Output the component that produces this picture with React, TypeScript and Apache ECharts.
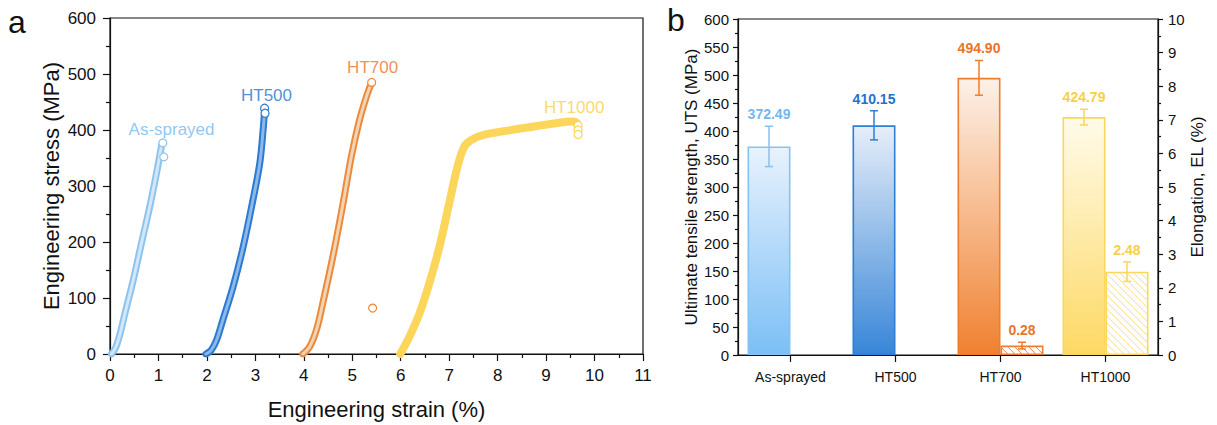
import React, { useEffect, useRef } from "react";
import * as echarts from "echarts";

// ---------- Panel a: engineering stress–strain curves [strain %, stress MPa] ----------
const curveNames = ["As-sprayed", "HT500", "HT700", "HT1000"];

const asSprayedCurve = [
  [0.03, 0], [0.12, 12], [0.21, 37], [0.31, 73], [0.48, 132], [0.65, 198],
  [0.82, 263], [0.96, 323], [1.06, 370], [1.08, 377],
];
const ht500Curve = [
  [1.98, 0], [2.09, 7], [2.2, 25], [2.33, 61], [2.54, 120], [2.75, 192],
  [2.95, 275], [3.09, 340], [3.16, 400], [3.19, 435],
];
const ht700Curve = [
  [3.98, 0], [4.12, 13], [4.26, 43], [4.39, 90], [4.6, 174], [4.81, 269],
  [4.98, 352], [5.15, 418], [5.29, 459], [5.39, 483],
];
const ht1000Curve = [
  [5.99, 0], [6.18, 31], [6.39, 73], [6.59, 126], [6.8, 192], [7.0, 269],
  [7.17, 334], [7.31, 370], [7.45, 382], [7.69, 391], [8.51, 403],
  [9.2, 412], [9.54, 415], [9.63, 413], [9.66, 405],
];
const curves = [asSprayedCurve, ht500Curve, ht700Curve, ht1000Curve];

// fracture / end points drawn as hollow circles
const asSprayedEnds = [[1.09, 377], [1.11, 352]];
const ht500Ends = [[3.19, 439], [3.2, 430]];
const ht700Ends = [[5.4, 485], [5.42, 82]];
const ht1000Ends = [[9.66, 408], [9.66, 400], [9.66, 392]];
const curveEnds = [asSprayedEnds, ht500Ends, ht700Ends, ht1000Ends];

// curve name annotations, in data coordinates [strain, stress]
const curveLabelAt = [[1.27, 401], [3.23, 462], [5.42, 511], [9.58, 440]];

// ---------- Panel b: UTS and elongation ----------
const categories = ["As-sprayed", "HT500", "HT700", "HT1000"];
const utsValues = [372.49, 410.15, 494.9, 424.79];
const utsErrors = [36, 26, 31, 14];
const elValues = [null, null, 0.28, 2.48];
const elErrors = [null, null, 0.1, 0.29];

// ---------- styles ----------
const FONT = "Liberation Sans, Arial, Helvetica, sans-serif";
const INK = "#111111";
const palette = [
  { edge: "#8dc4ee", inner: "#d3e7f8", label: "#74b8ee", top: "#e8f2fd", bottom: "#7bbff6", border: "#84c3f3", hatch: "#9ccdf3" },
  { edge: "#2c7ad1", inner: "#8bb9e9", label: "#2472cc", top: "#e6eef9", bottom: "#3886d8", border: "#2f7fd5", hatch: "#5b9be0" },
  { edge: "#ee893a", inner: "#efd4b6", label: "#ea7428", top: "#fdf1e8", bottom: "#f08130", border: "#ef7d2d", hatch: "#f08a48" },
  { edge: "#fcd55b", inner: "#fcd55b", label: "#f8cf48", top: "#fffbea", bottom: "#fdd964", border: "#fbd55c", hatch: "#f9dc86" },
];
const BAR_W = 43;

export default function App() {
  const ref = useRef<HTMLDivElement>(null);

  useEffect(() => {
    if (!ref.current) return;
    const chart = echarts.init(ref.current, undefined, { renderer: "svg" });

    const curveSeries: any[] = [];
    curves.forEach((c, i) => {
      const p = palette[i];
      curveSeries.push({
        type: "line", xAxisIndex: 0, yAxisIndex: 0, data: c, symbol: "none",
        smooth: 0.35, silent: true,
        lineStyle: { color: p.edge, width: i === 3 ? 8 : 7, cap: "round", join: "round" },
        z: 2,
      });
      if (i !== 3) {
        curveSeries.push({
          type: "line", xAxisIndex: 0, yAxisIndex: 0, data: c, symbol: "none",
          smooth: 0.35, silent: true,
          lineStyle: { color: p.inner, width: 3, cap: "round", join: "round" },
          z: 3,
        });
      }
      curveSeries.push({
        type: "scatter", xAxisIndex: 0, yAxisIndex: 0, data: curveEnds[i],
        symbol: "circle", symbolSize: 8, silent: true,
        itemStyle: { color: "#ffffff", borderColor: p.edge, borderWidth: 1.2, opacity: 1 },
        z: 4,
      });
    });

    const nameSeries = {
      type: "scatter", xAxisIndex: 0, yAxisIndex: 0, silent: true, symbolSize: 1,
      itemStyle: { color: "rgba(0,0,0,0)" },
      data: curveLabelAt.map((pos, i) => ({
        value: pos,
        label: {
          show: true, position: "inside", formatter: curveNames[i],
          color: palette[i].label, fontSize: 17, fontFamily: FONT,
        },
      })),
      z: 5,
    };

    const utsBar = {
      type: "bar", xAxisIndex: 1, yAxisIndex: 1, barWidth: BAR_W, barGap: "0%",
      silent: true,
      data: utsValues.map((v, i) => ({
        value: v,
        itemStyle: {
          color: new echarts.graphic.LinearGradient(0, 0, 0, 1, [
            { offset: 0, color: palette[i].top },
            { offset: 1, color: palette[i].bottom },
          ]),
          borderColor: palette[i].border, borderWidth: 1.6,
        },
      })),
      z: 2,
    };

    const elBar = {
      type: "bar", xAxisIndex: 1, yAxisIndex: 2, barWidth: BAR_W, barGap: "0%",
      silent: true,
      data: elValues.map((v, i) =>
        v == null ? null : {
          value: v,
          itemStyle: { color: "#ffffff", borderColor: palette[i].border, borderWidth: 1.6 },
        }
      ),
      z: 2,
    };

    const hatchData = elValues
      .map((v, i) => (v == null ? null : [i, v]))
      .filter((d) => d != null);

    const hatchSeries = {
      type: "custom", xAxisIndex: 1, yAxisIndex: 2, silent: true, z: 3,
      data: hatchData,
      renderItem: (params: any, api: any) => {
        const idx = api.value(0);
        const v = api.value(1);
        const top = api.coord([idx, v]);
        const base = api.coord([idx, 0]);
        const x0 = top[0] + 1, x1 = top[0] + BAR_W - 1;
        const y0 = top[1] + 1, y1 = base[1] - 1;
        const children: any[] = [];
        const step = 7;
        for (let c = y0 - x1; c <= y1 - x0; c += step) {
          const xs = Math.max(x0, y0 - c);
          const xe = Math.min(x1, y1 - c);
          if (xe > xs) {
            children.push({
              type: "line",
              shape: { x1: xs, y1: xs + c, x2: xe, y2: xe + c },
              style: { stroke: palette[idx].hatch, lineWidth: 1 },
            });
          }
        }
        return { type: "group", children };
      },
    };

    const makeErr = (values: (number | null)[], errs: (number | null)[], yIdx: number, side: number) => ({
      type: "custom", xAxisIndex: 1, yAxisIndex: yIdx, silent: true, z: 6,
      data: values
        .map((v, i) => (v == null ? null : [i, v, errs[i]]))
        .filter((d) => d != null),
      renderItem: (params: any, api: any) => {
        const idx = api.value(0);
        const v = api.value(1);
        const e = api.value(2);
        const c = api.coord([idx, v]);
        const cx = c[0] + side * BAR_W / 2;
        const hi = api.coord([idx, v + e])[1];
        const lo = api.coord([idx, v - e])[1];
        const col = palette[idx].border;
        const cap = 4;
        const st = { stroke: col, lineWidth: 1.5 };
        return {
          type: "group",
          children: [
            { type: "line", shape: { x1: cx, y1: hi, x2: cx, y2: lo }, style: st },
            { type: "line", shape: { x1: cx - cap, y1: hi, x2: cx + cap, y2: hi }, style: st },
            { type: "line", shape: { x1: cx - cap, y1: lo, x2: cx + cap, y2: lo }, style: st },
            {
              type: "text", x: cx, y: hi - 5,
              style: {
                text: v.toFixed(2), fill: palette[idx].label,
                fontSize: 14, fontWeight: "bold", fontFamily: FONT,
                align: "center", verticalAlign: "bottom",
              },
            },
          ],
        };
      },
    });

    const axisLine = { show: true, lineStyle: { color: INK, width: 1.2 } };

    chart.setOption({
      animation: false,
      textStyle: { fontFamily: FONT, color: INK },
      grid: [
        { left: 110, top: 18, width: 533, height: 336, show: true, borderColor: INK, borderWidth: 1.2, backgroundColor: "transparent" },
        { left: 738, top: 19, width: 420, height: 336, show: true, borderColor: INK, borderWidth: 1.2, backgroundColor: "transparent" },
      ],
      xAxis: [
        {
          type: "value", gridIndex: 0, min: 0, max: 11, interval: 1,
          name: "Engineering strain (%)", nameLocation: "middle", nameGap: 44,
          nameTextStyle: { fontSize: 22, color: INK, fontFamily: FONT },
          axisLine, splitLine: { show: false },
          axisTick: { show: true, length: 7, lineStyle: { color: INK, width: 1.2 } },
          minorTick: { show: true, splitNumber: 2, length: 4, lineStyle: { color: INK, width: 1.2 } },
          axisLabel: { fontSize: 17, color: INK, margin: 13, fontFamily: FONT },
        },
        {
          type: "category", gridIndex: 1, data: categories,
          axisLine,
          axisTick: { show: true, alignWithLabel: true, length: 7, lineStyle: { color: INK, width: 1.2 } },
          axisLabel: { fontSize: 14, color: INK, margin: 15, fontFamily: FONT },
        },
      ],
      yAxis: [
        {
          type: "value", gridIndex: 0, min: 0, max: 600, interval: 100,
          name: "Engineering stress (MPa)", nameLocation: "middle", nameGap: 48,
          nameTextStyle: { fontSize: 22, color: INK, fontFamily: FONT },
          axisLine, splitLine: { show: false },
          axisTick: { show: true, length: 7, lineStyle: { color: INK, width: 1.2 } },
          minorTick: { show: true, splitNumber: 2, length: 4, lineStyle: { color: INK, width: 1.2 } },
          axisLabel: { fontSize: 17, color: INK, margin: 14, fontFamily: FONT },
        },
        {
          type: "value", gridIndex: 1, min: 0, max: 600, interval: 50, position: "left",
          name: "Ultimate tensile strength, UTS (MPa)", nameLocation: "middle", nameGap: 37,
          nameTextStyle: { fontSize: 17, color: INK, fontFamily: FONT },
          axisLine, splitLine: { show: false },
          axisTick: { show: true, length: 5, lineStyle: { color: INK, width: 1.2 } },
          minorTick: { show: true, splitNumber: 2, length: 3, lineStyle: { color: INK, width: 1.2 } },
          axisLabel: { fontSize: 15, color: INK, margin: 9, fontFamily: FONT },
        },
        {
          type: "value", gridIndex: 1, min: 0, max: 10, interval: 1, position: "right",
          name: "Elongation, EL (%)", nameLocation: "middle", nameGap: 31,
          nameTextStyle: { fontSize: 17, color: INK, fontFamily: FONT },
          axisLine, splitLine: { show: false },
          axisTick: { show: true, length: 5, lineStyle: { color: INK, width: 1.2 } },
          minorTick: { show: true, splitNumber: 2, length: 3, lineStyle: { color: INK, width: 1.2 } },
          axisLabel: { fontSize: 15, color: INK, margin: 10, fontFamily: FONT },
        },
      ],
      graphic: [
        { type: "text", left: 8, top: 6, style: { text: "a", fontSize: 32, fill: INK, fontFamily: FONT } },
        { type: "text", left: 667, top: 4, style: { text: "b", fontSize: 32, fill: INK, fontFamily: FONT } },
      ],
      series: [
        ...curveSeries,
        nameSeries,
        utsBar,
        elBar,
        hatchSeries,
        makeErr(utsValues, utsErrors, 1, -1),
        makeErr(elValues, elErrors, 2, 1),
      ],
    });

    return () => chart.dispose();
  }, []);

  return (
    <div
      ref={ref}
      style={{ position: "fixed", left: 0, top: 0, width: 1217, height: 425, background: "#ffffff" }}
    />
  );
}
